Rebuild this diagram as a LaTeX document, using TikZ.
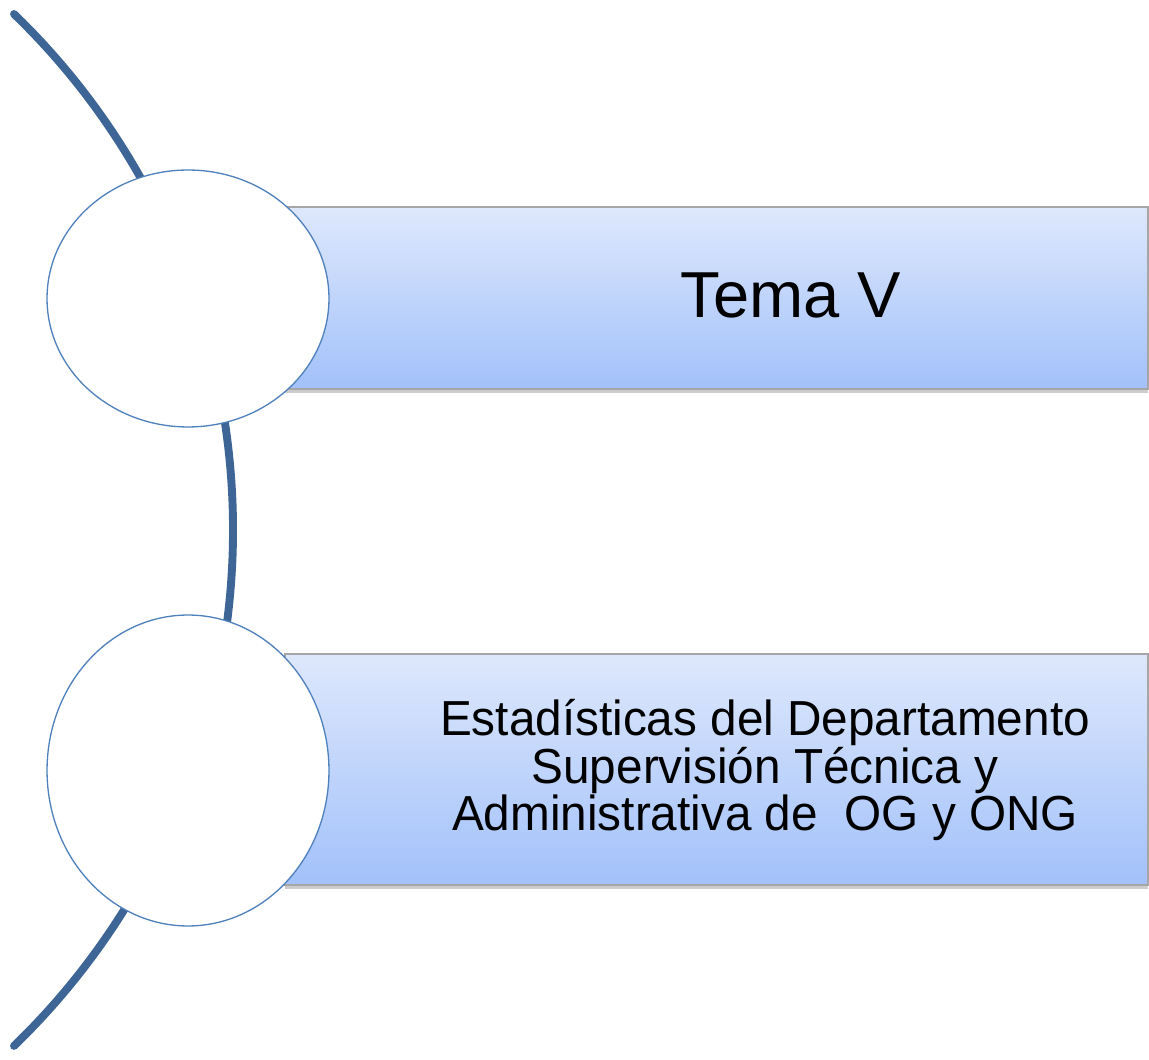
\documentclass[tikz,border=0pt]{standalone}
\usepackage{fontspec}
\setmainfont{Liberation Sans}
\newfontfamily\narrowsans[FakeStretch=0.97]{Liberation Sans}
\newcommand\tightlines{\lineskiplimit=-20pt\relax}
\usetikzlibrary{shapes.geometric, shadows}
\definecolor{arcblue}{RGB}{61,101,150}
\definecolor{ringblue}{RGB}{79,129,189}
\definecolor{bartop}{RGB}{222,232,252}
\definecolor{barbottom}{RGB}{162,193,250}
\tikzset{
ring/.style={ellipse, draw=ringblue, line width=0.75pt, fill=white, minimum width=5.64cm}, % the white ovals
bar/.style={rectangle, draw=black!35, line width=0.8pt, top color=bartop, bottom color=barbottom,
  minimum width=17.26cm, drop shadow={shadow xshift=0pt, shadow yshift=-2.5pt, opacity=0.4}}, % shaded banners
label/.style={align=center, text=black},
}

\begin{document}
\begin{tikzpicture}[x=0.02cm, y=0.02cm]
      \useasboundingbox (0,0) rectangle (1149,1059);

      % the long curve behind everything
      \coordinate (arcstart) at (14,1045);
      \draw[arcblue, line width=4.5pt, line cap=round] (arcstart) arc[start angle=46, end angle=-46, radius=14.348cm];

      \node[bar, minimum height=3.64cm] (bar1) at (716.5,761) {};
      \node[bar, minimum height=4.62cm] (bar2) at (716.5,289.5) {};

      \node[ring, minimum height=5.14cm] (ring1) at (188,760.5) {};
      \node[ring, minimum height=6.22cm] (ring2) at (188,288.5) {};

      \node[label, font=\fontsize{37}{40}\selectfont] (tema) at (791,764) {Tema V};
      \node[label, font={\narrowsans\fontsize{28}{27.2}\selectfont\tightlines}] (stats) at (765,289)
        {Estadísticas del Departamento\\Supervisión Técnica y\\Administrativa de~ OG y ONG};
    \end{tikzpicture}
\end{document}
